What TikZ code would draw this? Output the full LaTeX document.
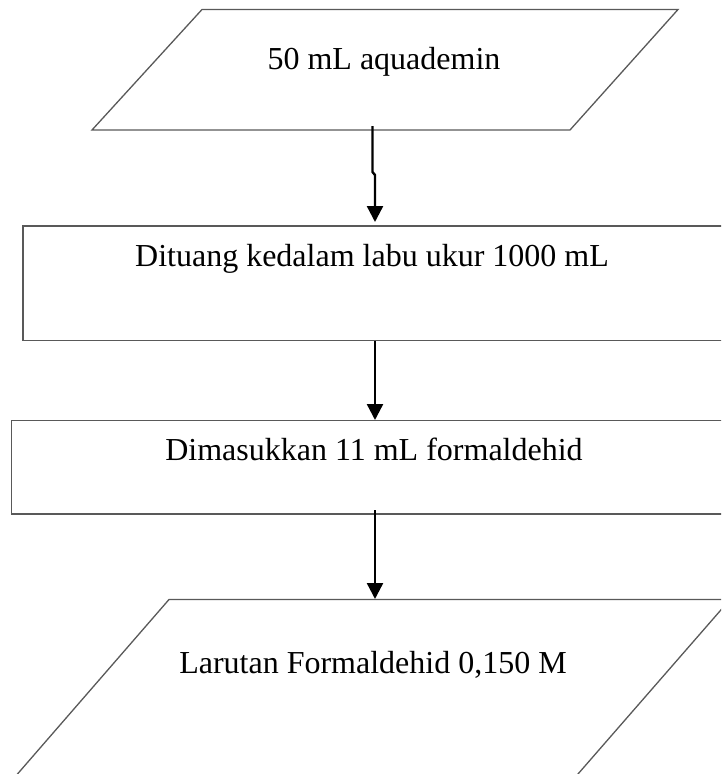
\documentclass[tikz,border=0pt]{standalone}
\usepackage{fontspec}
\setmainfont{Liberation Serif}
\usetikzlibrary{arrows.meta}
\begin{document}
\begin{tikzpicture}[x=1pt,y=-1pt,
  boxline/.style={draw=black!65, line width=1.3pt},
  label/.style={anchor=base, inner sep=0pt, font=\fontsize{32}{38}\selectfont},
  flow/.style={line width=2.4pt, -{Triangle[length=16pt,width=16pt]}}]
\useasboundingbox (0,0) rectangle (721,774);
\clip (0,0) rectangle (721,774);
% shapes
\draw[boxline] (202,9.5) -- (678,9.5) -- (570,130) -- (92,130) -- cycle;
\draw[boxline] (23,226) rectangle (760,340.5);
\draw[boxline] (11.5,420.5) rectangle (760,514);
\draw[boxline] (169,599.5) -- (730,599.5) -- (574.5,778) -- (14,778) -- cycle;
% texts
\node[label] (t1) at (384,69) {50 mL aquademin};
\node[label] (t2) at (372,266) {Dituang kedalam labu ukur 1000 mL};
\node[label] (t3) at (374,460) {Dimasukkan 11 mL formaldehid};
\node[label] (t4) at (373,673) {Larutan Formaldehid 0,150 M};
% connector end points
\coordinate (a1s) at (372.5,126);
\coordinate (a1k) at (372.5,172);
\coordinate (a1m) at (375,175);
\coordinate (a1e) at (375,222);
\coordinate (a2s) at (375,340.5);
\coordinate (a2e) at (375,420);
\coordinate (a3s) at (375,510);
\coordinate (a3e) at (375,599);
\draw[flow] (a1s) -- (a1k) -- (a1m) -- (a1e);
\draw[flow] (a2s) -- (a2e);
\draw[flow] (a3s) -- (a3e);
\end{tikzpicture}
\end{document}
